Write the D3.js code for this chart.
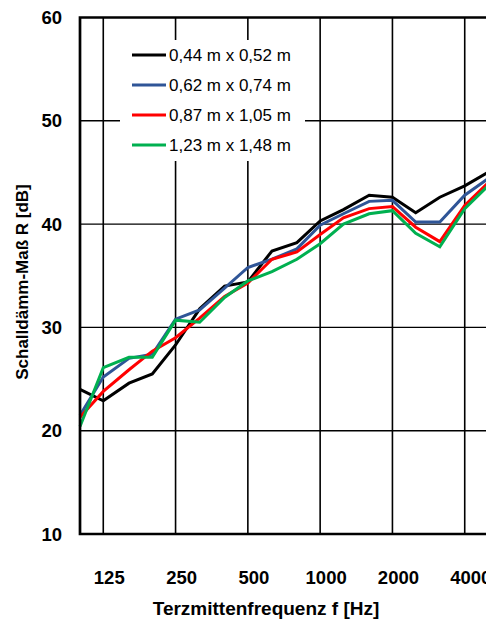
<!DOCTYPE html>
<html>
<head>
<meta charset="utf-8">
<script src="https://cdn.jsdelivr.net/npm/d3@7/dist/d3.min.js"></script>
<style>
html,body{margin:0;padding:0;background:#fff;overflow:hidden;}
svg{display:block;font-family:"Liberation Sans",Arial,sans-serif;}
</style>
</head>
<body>
<svg id="chart" width="486" height="621"></svg>
<script>
const frequencies = [100,125,160,200,250,315,400,500,630,800,1000,1250,1600,2000,2500,3150,4000,5000];
const seriesNames = ["0,44 m x 0,52 m","0,62 m x 0,74 m","0,87 m x 1,05 m","1,23 m x 1,48 m"];
const seriesColors = ["#000000","#2f5597","#ff0000","#00b050"];
const s044 = [24.0,22.9,24.6,25.5,28.3,31.8,34.0,34.4,37.4,38.2,40.3,41.4,42.8,42.6,41.1,42.6,43.7,45.0];
const s062 = [21.5,25.2,27.0,27.4,30.8,31.7,33.8,35.8,36.6,37.6,39.9,41.0,42.2,42.3,40.2,40.2,42.8,44.4];
const s087 = [21.3,23.8,25.9,27.7,29.0,30.9,33.0,34.3,36.6,37.3,39.0,40.6,41.5,41.7,39.7,38.3,41.8,44.0];
const s123 = [20.4,26.1,27.1,27.1,30.7,30.5,32.9,34.5,35.4,36.6,38.1,40.0,41.0,41.3,39.1,37.8,41.5,43.7];
const seriesValues = [s044,s062,s087,s123];
const yTicks = [10,20,30,40,50,60];
const xTickLabels = [125,250,500,1000,2000,4000];

const svg = d3.select("#chart");
const pLeft = 80, pTop = 17.5, pBottom = 534;
const x = d3.scaleLog().domain([100,5000]).range([pLeft, pLeft + 24*17]);
const y = d3.scaleLinear().domain([10,60]).range([pBottom, pTop]);
const pRight = x(5000) + 10;

// gridlines
svg.append("g").selectAll("line").data(yTicks.filter(d=>d>10&&d<60)).join("line")
  .attr("x1",pLeft).attr("x2",pRight).attr("y1",d=>y(d)).attr("y2",d=>y(d))
  .attr("stroke","#000").attr("stroke-width",1.4);
svg.append("g").selectAll("line").data(xTickLabels).join("line")
  .attr("x1",d=>x(d)).attr("x2",d=>x(d)).attr("y1",pTop).attr("y2",pBottom)
  .attr("stroke","#000").attr("stroke-width",1.6);

// legend background
const lg = svg.append("g");
lg.append("rect").attr("x",120).attr("y",40).attr("width",185).attr("height",121).attr("fill","#fff");

// lines
const line = d3.line().x((d,i)=>x(frequencies[i])).y(d=>y(d));
svg.append("g").selectAll("path").data(seriesValues).join("path")
  .attr("d",line).attr("fill","none")
  .attr("stroke",(d,i)=>seriesColors[i]).attr("stroke-width",3).attr("stroke-linejoin","miter");

// frame
svg.append("path").attr("d",`M${pRight},${pTop}H${pLeft}V${pBottom}H${pRight}`)
  .attr("fill","none").attr("stroke","#000").attr("stroke-width",2.7);

// legend items
seriesNames.forEach((n,i)=>{
  const yy = 55 + i*30;
  lg.append("line").attr("x1",132).attr("x2",166).attr("y1",yy).attr("y2",yy)
    .attr("stroke",seriesColors[i]).attr("stroke-width",3);
  lg.append("text").attr("x",169).attr("y",yy).attr("dy","0.36em")
    .attr("font-size",17).attr("fill","#000").text(n);
});

// y tick labels
svg.append("g").selectAll("text").data(yTicks).join("text")
  .attr("x",62).attr("y",d=>y(d)).attr("dy","0.36em").attr("text-anchor","end")
  .attr("font-size",18.5).attr("font-weight","bold").text(d=>d);
// x tick labels
svg.append("g").selectAll("text").data(xTickLabels).join("text")
  .attr("x",d=>x(d)+6).attr("y",583.5).attr("text-anchor","middle")
  .attr("font-size",18.5).attr("font-weight","bold").text(d=>d);

// axis titles
svg.append("text").attr("x",266).attr("y",615).attr("text-anchor","middle")
  .attr("font-size",19).attr("font-weight","bold").text("Terzmittenfrequenz f [Hz]");
svg.append("text").attr("transform","translate(28,282) rotate(-90)").attr("text-anchor","middle")
  .attr("font-size",17).attr("font-weight","bold").text("Schalldämm-Maß R [dB]");
</script>
</body>
</html>
